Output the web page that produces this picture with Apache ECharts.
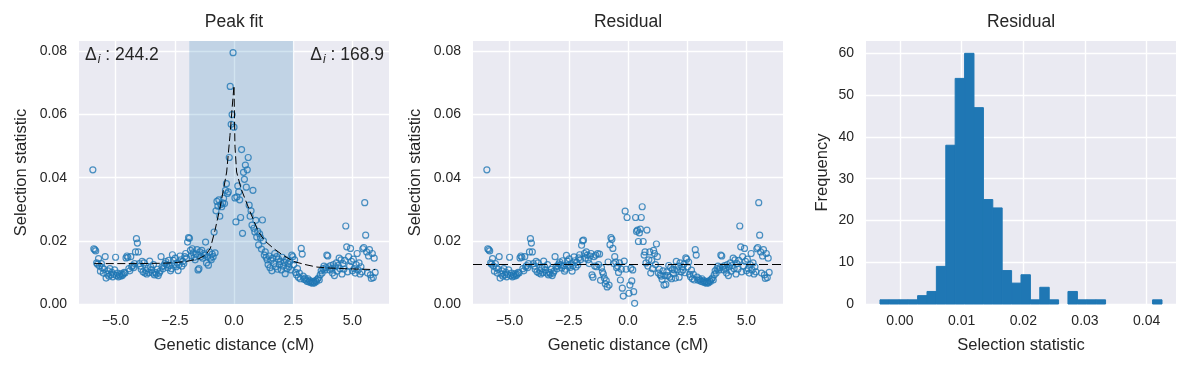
<!DOCTYPE html>
<html><head><meta charset="utf-8">
<script src="https://cdn.jsdelivr.net/npm/echarts@6/dist/echarts.min.js"></script>
<style>html,body{margin:0;padding:0;background:#fff}#c{width:1191px;height:368px}</style>
</head><body><div id="c"></div>
<script>
// ---------- data ----------
const distance = [
-5.96,-5.92,-5.88,-5.84,-5.8,-5.76,-5.72,-5.68,-5.64,-5.6,-5.56,-5.52,-5.48,-5.44,-5.4,-5.36,-5.32,-5.28,-5.24,-5.2,-5.16,-5.12,-5.08,-5.04,-5,
-4.96,-4.92,-4.88,-4.84,-4.8,-4.76,-4.72,-4.68,-4.64,-4.6,-4.56,-4.52,-4.48,-4.44,-4.4,-4.36,-4.32,-4.28,-4.24,-4.2,-4.16,-4.12,-4.08,-4.04,-4,
-3.96,-3.92,-3.88,-3.84,-3.8,-3.76,-3.72,-3.68,-3.64,-3.6,-3.56,-3.52,-3.48,-3.44,-3.4,-3.36,-3.32,-3.28,-3.24,-3.2,-3.16,-3.12,-3.08,-3.04,-3,
-2.96,-2.92,-2.88,-2.84,-2.8,-2.76,-2.72,-2.68,-2.64,-2.6,-2.56,-2.52,-2.48,-2.44,-2.4,-2.36,-2.32,-2.28,-2.24,-2.2,-2.16,-2.12,-2.08,-2.04,-2,
-1.96,-1.92,-1.88,-1.84,-1.8,-1.76,-1.72,-1.68,-1.64,-1.6,-1.56,-1.52,-1.48,-1.44,-1.4,-1.36,-1.32,-1.28,-1.24,-1.2,-1.16,-1.12,-1.08,-1.04,-1,
-0.96,-0.92,-0.88,-0.84,-0.8,-0.76,-0.72,-0.68,-0.64,-0.6,-0.56,-0.52,-0.48,-0.44,-0.4,-0.36,-0.32,-0.28,-0.24,-0.2,-0.16,-0.12,-0.08,-0.04,0,
0.04,0.08,0.12,0.16,0.2,0.24,0.28,0.32,0.36,0.4,0.44,0.48,0.52,0.56,0.6,0.64,0.68,0.72,0.76,0.8,0.84,0.88,0.92,0.96,1,
1.04,1.08,1.12,1.16,1.2,1.24,1.28,1.32,1.36,1.4,1.44,1.48,1.52,1.56,1.6,1.64,1.68,1.72,1.76,1.8,1.84,1.88,1.92,1.96,2,
2.04,2.08,2.12,2.16,2.2,2.24,2.28,2.32,2.36,2.4,2.44,2.48,2.52,2.56,2.6,2.64,2.68,2.72,2.76,2.8,2.84,2.88,2.92,2.96,3,
3.04,3.08,3.12,3.16,3.2,3.24,3.28,3.32,3.36,3.4,3.44,3.48,3.52,3.56,3.6,3.64,3.68,3.72,3.76,3.8,3.84,3.88,3.92,3.96,4,
4.04,4.08,4.12,4.16,4.2,4.24,4.28,4.32,4.36,4.4,4.44,4.48,4.52,4.56,4.6,4.64,4.68,4.72,4.76,4.8,4.84,4.88,4.92,4.96,5,
5.04,5.08,5.12,5.16,5.2,5.24,5.28,5.32,5.36,5.4,5.44,5.48,5.52,5.56,5.6,5.64,5.68,5.72,5.76,5.8,5.84,5.88,5.92,5.96
];
const selection = [
0.0425,0.0175,0.0172,0.0168,0.0130,0.0126,0.0144,0.0120,0.0104,0.0128,0.0115,0.0098,0.0110,0.0150,0.0082,0.0095,0.0105,0.0088,0.0112,0.0092,0.0100,0.0086,0.0094,0.0108,0.0148,
0.0090,0.0098,0.0086,0.0092,0.0088,0.0096,0.0090,0.0094,0.0100,0.0098,0.0146,0.0152,0.0148,0.0112,0.0105,0.0150,0.0118,0.0122,0.0115,0.0128,0.0165,0.0207,0.0193,0.0165,0.0128,
0.0120,0.0110,0.0135,0.0102,0.0130,0.0098,0.0106,0.0095,0.0112,0.0100,0.0136,0.0118,0.0108,0.0098,0.0125,0.0092,0.0100,0.0095,0.0110,0.0090,0.0098,0.0104,0.0150,0.0118,0.0112,
0.0122,0.0128,0.0134,0.0125,0.0115,0.0138,0.0122,0.0105,0.0112,0.0156,0.0138,0.0125,0.0145,0.0118,0.0130,0.0106,0.0125,0.0152,0.0140,0.0120,0.0135,0.0128,0.0150,0.0160,0.0145,
0.0196,0.0210,0.0208,0.0170,0.0152,0.0175,0.0162,0.0148,0.0140,0.0158,0.0172,0.0108,0.0112,0.0165,0.0150,0.0170,0.0145,0.0160,0.0155,0.0196,0.0130,0.0150,0.0123,0.0165,0.0145,
0.0140,0.0158,0.0150,0.0228,0.0162,0.0295,0.0325,0.0310,0.0330,0.0278,0.0315,0.0308,0.0320,0.0335,0.0318,0.0360,0.0381,0.0350,0.0355,0.0464,0.0689,0.0569,0.0600,0.0796,0.0560,
0.0336,0.0260,0.0339,0.0374,0.0355,0.0330,0.0274,0.0489,0.0224,0.0417,0.0395,0.0440,0.0370,0.0425,0.0464,0.0313,0.0278,0.0295,0.0250,0.0360,0.0240,0.0228,0.0265,0.0212,0.0230,
0.0187,0.0222,0.0210,0.0174,0.0266,0.0200,0.0155,0.0165,0.0148,0.0140,0.0125,0.0152,0.0115,0.0138,0.0105,0.0145,0.0128,0.0160,0.0118,0.0150,0.0110,0.0142,0.0125,0.0135,0.0108,
0.0148,0.0120,0.0132,0.0096,0.0140,0.0112,0.0128,0.0118,0.0135,0.0108,0.0155,0.0150,0.0125,0.0140,0.0100,0.0092,0.0112,0.0085,0.0098,0.0080,0.0176,0.0158,0.0088,0.0078,0.0082,
0.0076,0.0072,0.0080,0.0070,0.0074,0.0068,0.0072,0.0066,0.0070,0.0067,0.0074,0.0071,0.0078,0.0082,0.0076,0.0092,0.0105,0.0098,0.0112,0.0120,0.0108,0.0115,0.0155,0.0152,0.0118,
0.0108,0.0122,0.0112,0.0098,0.0125,0.0090,0.0118,0.0130,0.0104,0.0122,0.0145,0.0112,0.0140,0.0095,0.0128,0.0110,0.0138,0.0247,0.0181,0.0102,0.0150,0.0120,0.0176,0.0135,0.0105,
0.0142,0.0112,0.0098,0.0125,0.0160,0.0108,0.0130,0.0095,0.0118,0.0102,0.0175,0.0179,0.0321,0.0218,0.0165,0.0098,0.0152,0.0172,0.0092,0.0081,0.0160,0.0084,0.0145,0.0100
];
const residual = [
0.0425,0.0175,0.0172,0.0168,0.0130,0.0126,0.0144,0.0120,0.0104,0.0128,0.0115,0.0098,0.0110,0.0150,0.0082,0.0095,0.0105,0.0088,0.0112,0.0092,0.0100,0.0086,0.0094,0.0108,0.0148,
0.0090,0.0098,0.0086,0.0092,0.0088,0.0096,0.0090,0.0094,0.0100,0.0098,0.0146,0.0152,0.0148,0.0112,0.0105,0.0150,0.0118,0.0122,0.0115,0.0128,0.0165,0.0207,0.0193,0.0165,0.0128,
0.0120,0.0110,0.0135,0.0102,0.0130,0.0098,0.0106,0.0095,0.0112,0.0100,0.0136,0.0118,0.0108,0.0098,0.0125,0.0092,0.0100,0.0095,0.0110,0.0090,0.0098,0.0104,0.0150,0.0118,0.0112,
0.0121,0.0127,0.0133,0.0124,0.0114,0.0137,0.0121,0.0104,0.0110,0.0154,0.0136,0.0123,0.0143,0.0116,0.0128,0.0104,0.0122,0.0149,0.0137,0.0117,0.0132,0.0124,0.0146,0.0156,0.0141,
0.0186,0.0200,0.0202,0.0160,0.0145,0.0165,0.0155,0.0140,0.0128,0.0152,0.0160,0.0092,0.0085,0.0150,0.0120,0.0155,0.0118,0.0160,0.0125,0.0158,0.0075,0.0115,0.0102,0.0095,0.0082,
0.0064,0.0074,0.0054,0.0133,0.0060,0.0188,0.0210,0.0205,0.0176,0.0128,0.0150,0.0133,0.0115,0.0120,0.0100,0.0130,0.0076,0.0110,0.0050,0.0025,0.0136,0.0294,0.0110,0.0274,-0.0003,
0.0034,0.0060,0.0113,0.0073,0.0108,0.0039,0.0002,0.0274,0.0230,0.0234,0.0198,0.0225,0.0237,0.0274,0.0308,0.0198,0.0155,0.0165,0.0130,0.0234,0.0120,0.0140,0.0165,0.0098,0.0138,
0.0112,0.0170,0.0160,0.0125,0.0190,0.0150,0.0098,0.0110,0.0092,0.0088,0.0078,0.0105,0.0060,0.0090,0.0062,0.0102,0.0090,0.0122,0.0085,0.0115,0.0080,0.0110,0.0096,0.0108,0.0082,
0.0135,0.0108,0.0120,0.0085,0.0130,0.0102,0.0118,0.0108,0.0126,0.0099,0.0146,0.0142,0.0118,0.0133,0.0094,0.0086,0.0107,0.0080,0.0094,0.0076,0.0172,0.0155,0.0085,0.0075,0.0080,
0.0076,0.0072,0.0080,0.0070,0.0074,0.0068,0.0072,0.0066,0.0070,0.0067,0.0074,0.0071,0.0078,0.0082,0.0076,0.0092,0.0105,0.0098,0.0112,0.0120,0.0108,0.0115,0.0155,0.0152,0.0118,
0.0108,0.0122,0.0112,0.0098,0.0125,0.0090,0.0118,0.0130,0.0104,0.0122,0.0145,0.0112,0.0140,0.0095,0.0128,0.0110,0.0138,0.0247,0.0181,0.0102,0.0150,0.0120,0.0176,0.0135,0.0105,
0.0142,0.0112,0.0098,0.0125,0.0160,0.0108,0.0130,0.0095,0.0118,0.0102,0.0175,0.0179,0.0321,0.0218,0.0165,0.0098,0.0152,0.0172,0.0092,0.0081,0.0160,0.0084,0.0145,0.0100
];
const fitX = [-5.9,-4.0,-3.0,-2.5,-2.0,-1.5,-1.2,-1.0,-0.8,-0.6,-0.45,-0.31,-0.17,-0.08,0.0,0.04,0.11,0.3,0.68,1.03,1.3,1.67,2.0,2.5,3.0,3.5,4.0,5.0,5.96];
const fitY = [0.0128,0.0128,0.0129,0.0131,0.0135,0.0143,0.0155,0.0176,0.0234,0.0302,0.0360,0.0418,0.0534,0.0620,0.0692,0.0500,0.0418,0.0365,0.0292,0.0229,0.0200,0.0176,0.0158,0.0135,0.0125,0.0117,0.0114,0.0111,0.0109];
const baseline = 0.0125;
const peakRegion = [-1.89, 2.5];
const deltaLeft = '244.2';
const deltaRight = '168.9';
const binEdges = [-0.00324,-0.00172,-0.00019,0.00133,0.00286,0.00438,0.00590,0.00743,0.00895,0.01048,0.01200,0.01353,0.01505,0.01657,0.01810,0.01962,0.02115,0.02267,0.02420,0.02572,0.02724,0.02877,0.03029,0.03182,0.03334,0.03487,0.03639,0.03791,0.03944,0.04096,0.04249];
const binCounts = [1,1,1,1,2,3,9,38,54,60,47,25,23,8,5,7,1,4,1,0,3,1,1,1,0,0,0,0,0,1];
const distTicks = [-5, -2.5, 0, 2.5, 5];
const statTicks = [0, 0.02, 0.04, 0.06, 0.08];
const histXTicks = [0, 0.01, 0.02, 0.03, 0.04];
const freqTicks = [0, 10, 20, 30, 40, 50, 60];
const titles = ['Peak fit', 'Residual', 'Residual'];

// ---------- chart ----------
const FONT = '"Liberation Sans", Arial, sans-serif';
const TXT = '#262626';
const BLUE = '#1f77b4';
const fmt = d => v => (v < 0 ? '\u2212' : '') + Math.abs(v).toFixed(d);

const GRIDS = [
  {left: 79, top: 41, width: 310, height: 263},
  {left: 473, top: 41, width: 310, height: 263},
  {left: 866, top: 41, width: 310, height: 263}
];

function valAxis(gi, min, max, ticks, dec, name, gap, isY) {
  return {
    type: 'value', gridIndex: gi, min: min, max: max,
    name: name, nameLocation: 'middle', nameGap: gap,
    nameTextStyle: {fontSize: 16.5, color: TXT, fontFamily: FONT},
    axisLine: {show: false},
    axisTick: {show: false, customValues: ticks},
    axisLabel: {customValues: ticks, formatter: fmt(dec), fontSize: 14, color: TXT, fontFamily: FONT, margin: isY ? 12 : 10},
    splitLine: {show: true, lineStyle: {color: '#ffffff', width: 1.4}}
  };
}

const chart = echarts.init(document.getElementById('c'), null, {renderer: 'canvas'});
const scatterStyle = {color: 'rgba(0,0,0,0)', borderColor: BLUE, borderWidth: 1.2};

const option = {
  animation: false,
  backgroundColor: '#ffffff',
  textStyle: {fontFamily: FONT},
  grid: GRIDS.map(g => Object.assign({show: true, backgroundColor: '#eaeaf2', borderWidth: 0, containLabel: false, outerBoundsMode: 'none'}, g)),
  xAxis: [
    valAxis(0, -6.545, 6.545, distTicks, 1, 'Genetic distance (cM)', 33, false),
    valAxis(1, -6.545, 6.545, distTicks, 1, 'Genetic distance (cM)', 33, false),
    valAxis(2, -0.00551, 0.04476, histXTicks, 2, 'Selection statistic', 33, false)
  ],
  yAxis: [
    valAxis(0, 0, 0.0833, statTicks, 2, 'Selection statistic', 49, true),
    valAxis(1, 0, 0.0833, statTicks, 2, 'Selection statistic', 49, true),
    valAxis(2, 0, 62.95, freqTicks, 0, 'Frequency', 35, true)
  ],
  series: [
    {
      type: 'scatter', xAxisIndex: 0, yAxisIndex: 0, z: 2,
      data: distance.map((x, i) => [x, selection[i]]),
      symbol: 'circle', symbolSize: 6, itemStyle: scatterStyle,
      emphasis: {disabled: true},
      markArea: {
        silent: true, z: 1,
        itemStyle: {color: 'rgba(31,119,180,0.2)'},
        data: [[{xAxis: peakRegion[0]}, {xAxis: peakRegion[1]}]]
      }
    },
    {
      type: 'line', xAxisIndex: 0, yAxisIndex: 0, z: 3,
      data: fitX.map((x, i) => [x, fitY[i]]),
      showSymbol: false, symbol: 'none', smooth: false,
      lineStyle: {color: '#000', width: 1, type: [8, 3.5]},
      emphasis: {disabled: true}
    },
    {
      type: 'scatter', xAxisIndex: 1, yAxisIndex: 1, z: 2,
      data: distance.map((x, i) => [x, residual[i]]),
      symbol: 'circle', symbolSize: 6, itemStyle: scatterStyle,
      emphasis: {disabled: true},
      markLine: {
        silent: true, symbol: 'none', precision: 6, label: {show: false},
        lineStyle: {color: '#000', width: 1, type: [9, 4]},
        data: [{yAxis: baseline}]
      }
    },
    {
      type: 'custom', xAxisIndex: 2, yAxisIndex: 2,
      data: binCounts.map((c, i) => [binEdges[i], binEdges[i + 1], c]),
      encode: {x: [0, 1], y: 2},
      renderItem: function (params, api) {
        if (!api.value(2)) return null;
        const p0 = api.coord([api.value(0), api.value(2)]);
        const p1 = api.coord([api.value(1), 0]);
        return {
          type: 'rect',
          shape: {x: p0[0], y: p0[1], width: p1[0] - p0[0], height: p1[1] - p0[1]},
          style: {fill: BLUE, stroke: BLUE, lineWidth: 1}
        };
      }
    }
  ],
  graphic: [
    ...titles.map((t, i) => ({
      type: 'text', x: GRIDS[i].left + GRIDS[i].width / 2, y: 13.5, silent: true,
      style: {text: t, fill: TXT, fontSize: 17.5, fontFamily: FONT, textAlign: 'center', textVerticalAlign: 'top'}
    })),
    {
      type: 'text', x: 85, y: 44, silent: true, z: 100,
      style: {
        text: '{a|\u0394}{b|i}{a| : ' + deltaLeft + '}', textAlign: 'left', textVerticalAlign: 'top',
        rich: {
          a: {fontSize: 17.5, fill: TXT, fontFamily: FONT},
          b: {fontSize: 12, fill: TXT, fontFamily: FONT, fontStyle: 'italic', verticalAlign: 'bottom', padding: [10, 0, 0, 1]}
        }
      }
    },
    {
      type: 'text', x: 384, y: 44, silent: true, z: 100,
      style: {
        text: '{a|\u0394}{b|i}{a| : ' + deltaRight + '}', textAlign: 'right', textVerticalAlign: 'top',
        rich: {
          a: {fontSize: 17.5, fill: TXT, fontFamily: FONT},
          b: {fontSize: 12, fill: TXT, fontFamily: FONT, fontStyle: 'italic', verticalAlign: 'bottom', padding: [10, 0, 0, 1]}
        }
      }
    }
  ]
};
chart.setOption(option);
</script>
</body></html>
